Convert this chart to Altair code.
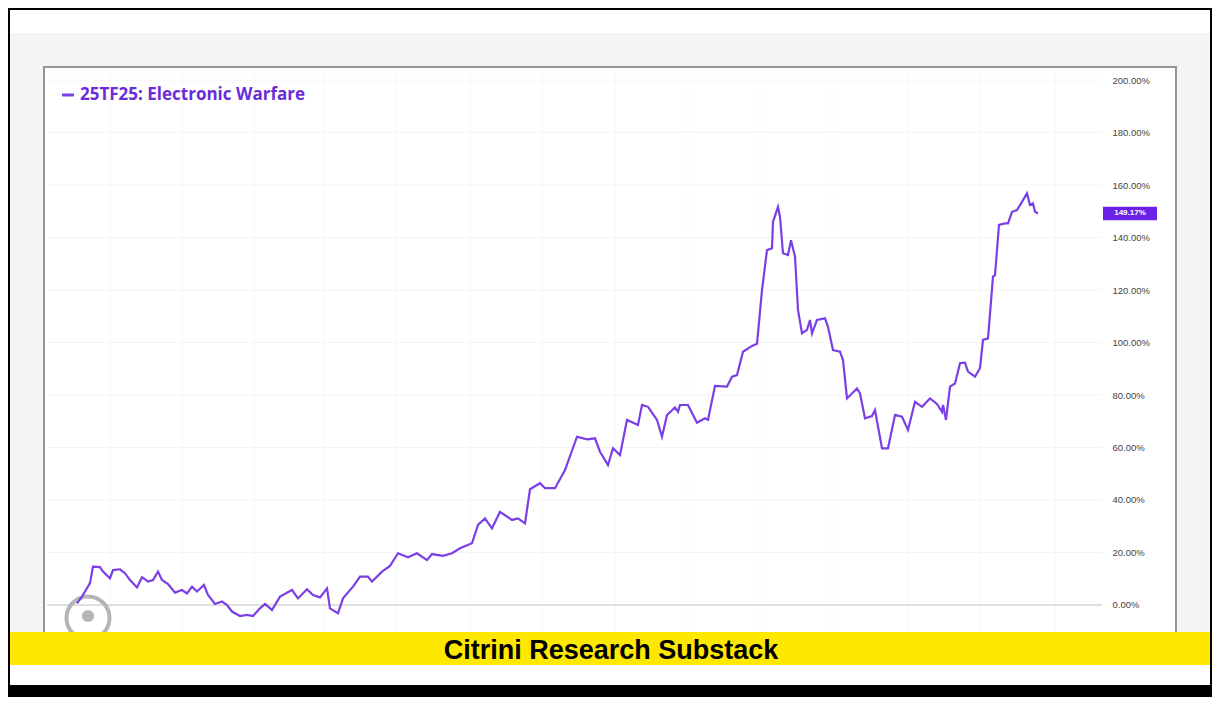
import altair as alt
import pandas as pd

# ---- data ----
series_name = "25TF25: Electronic Warfare"
banner_text = "Citrini Research Substack"
last_label = "149.17%"

session = [0, 5, 13, 16, 23, 26, 33, 36, 43, 48, 53, 60, 65, 71, 76, 81, 85, 91, 98, 105,
           110, 115, 120, 127, 131, 138, 145, 150, 155, 163, 170, 176, 183, 188, 195, 203, 215, 221, 230, 236,
           243, 250, 253, 261, 266, 276, 283, 291, 295, 305, 313, 321, 331, 340, 350, 355, 366, 375, 383, 395,
           401, 408, 415, 423, 435, 441, 448, 453, 463, 468, 478, 488, 500, 510, 518, 523, 531, 536, 543, 550,
           561, 565, 571, 580, 585, 590, 598, 601, 603, 611, 620, 628, 631, 638, 650, 655, 660, 666, 675, 680,
           685, 690, 695, 696, 701, 703, 706, 711, 714, 718, 721, 725, 730, 733, 735, 740, 748, 751, 756, 763,
           766, 770, 780, 783, 788, 795, 798, 805, 811, 818, 825, 831, 838, 845, 853, 860, 865, 866, 869, 873,
           878, 883, 888, 891, 898, 903, 906, 911, 916, 918, 922, 928, 931, 935, 940, 945, 950, 953, 956, 958,
           961]
change_pct = [0.6, 3.2, 8.3, 14.6, 14.4, 12.7, 10.2, 13.3, 13.6, 12.1, 9.5, 6.7, 10.6, 8.9, 9.5, 12.7, 9.5, 8.0, 4.7, 5.7,
              4.4, 7.0, 5.1, 7.6, 3.8, 0.4, 1.3, 0.0, -2.5, -4.2, -3.8, -4.2, -1.3, 0.4, -1.9, 3.2, 5.7, 2.5, 6.0, 3.8,
              2.9, 6.3, -1.3, -3.2, 2.5, 7.0, 10.8, 10.8, 8.9, 12.7, 14.9, 19.7, 18.2, 19.7, 17.1, 19.4, 18.7, 19.7, 21.6, 23.5,
              30.5, 33.0, 29.2, 35.5, 32.4, 33.0, 31.1, 44.1, 46.4, 44.5, 44.5, 51.4, 64.1, 63.1, 63.5, 58.4, 53.3, 59.7, 57.1, 70.5,
              68.6, 76.2, 75.5, 70.5, 64.1, 72.4, 75.3, 73.6, 76.2, 76.2, 69.4, 71.1, 70.5, 83.5, 83.2, 87.0, 87.6, 96.5, 98.7, 99.5,
              120.0, 135.2, 135.9, 146.0, 151.7, 147.9, 134.0, 133.3, 139.0, 132.7, 112.4, 103.5, 104.8, 108.6, 103.5, 108.6, 109.2, 106.0, 97.1, 96.5,
              93.3, 78.7, 82.5, 80.6, 71.1, 72.0, 74.3, 59.7, 59.7, 72.4, 71.7, 66.7, 77.4, 75.5, 78.7, 76.6, 73.6, 76.2, 70.5, 83.2,
              84.4, 92.1, 92.3, 88.9, 87.0, 90.2, 101.0, 101.6, 125.1, 125.7, 144.8, 145.4, 145.4, 149.8, 150.5, 153.6, 156.8, 152.4, 153.0, 149.8,
              149.17]
grid_sessions = [33, 105, 177, 248, 320, 393, 465, 538, 611, 683, 755, 830, 903, 978]
y_ticks = [0, 20, 40, 60, 80, 100, 120, 140, 160, 180, 200]

PURPLE_LINE = "#7a40e6"
PURPLE_TEXT = "#6a2cd8"
PURPLE_BOX = "#6c22e6"

W, H = 1055, 564

df = pd.DataFrame({"session": session, "pct": change_pct})
grid_x = pd.DataFrame({"session": grid_sessions})
grid_y = pd.DataFrame({"pct": [v for v in y_ticks if v != 0]})
zero_df = pd.DataFrame({"pct": [0]})
last_df = pd.DataFrame({"pct": [change_pct[-1]], "label": [last_label]})
one = pd.DataFrame({"k": [1]})
legend_df = pd.DataFrame({"label": [series_name]})
banner_df = pd.DataFrame({"label": [banner_text]})

xs = alt.Scale(domain=[-30, 1025], nice=False, zero=False)
ys = alt.Scale(domain=[-10.3, 204.6], nice=False, zero=False)

yaxis = alt.Axis(orient="right", values=y_ticks, grid=False, ticks=False, domain=False,
                 labelExpr="format(datum.value, '.2f') + '%'", labelPadding=10,
                 labelAlign="left", labelFontSize=9.5, labelFont="Liberation Sans",
                 labelColor="#444444", title=None, zindex=1)


def box(color, x1, x2, y1, y2, **kw):
    return alt.Chart(one).mark_rect(color=color, **kw).encode(
        x=alt.value(x1), x2=alt.value(x2), y=alt.value(y1), y2=alt.value(y2))


top_white = box("#ffffff", -37, 1163, -58, -35)
gray_bg = box("#f4f4f4", -37, 1163, -35, 564)
frame = alt.Chart(one).mark_rect(fill="#ffffff", stroke="#959595", strokeWidth=2).encode(
    x=alt.value(-3), x2=alt.value(1129), y=alt.value(-1), y2=alt.value(570))

vgrid = alt.Chart(grid_x).mark_rule(color="#f7f7f7", strokeWidth=1).encode(
    x=alt.X("session:Q", scale=xs, axis=None))
hgrid = alt.Chart(grid_y).mark_rule(color="#f4f4f4", strokeWidth=1).encode(
    y=alt.Y("pct:Q", scale=ys, axis=yaxis))
zero_line = alt.Chart(zero_df).mark_rule(color="#d6d6d6", strokeWidth=1.5).encode(
    y=alt.Y("pct:Q", scale=ys, axis=yaxis))

ring = alt.Chart(one).mark_point(shape="circle", size=1850, filled=False, stroke="#b5b5b5",
                                 strokeWidth=4, opacity=1).encode(x=alt.value(41), y=alt.value(550))
dot = alt.Chart(one).mark_point(shape="circle", size=150, filled=True, color="#b5b5b5",
                                opacity=1).encode(x=alt.value(41), y=alt.value(548))

line = alt.Chart(df).mark_line(color=PURPLE_LINE, strokeWidth=2.2).encode(
    x=alt.X("session:Q", scale=xs, axis=None),
    y=alt.Y("pct:Q", scale=ys, axis=yaxis))

last_box = alt.Chart(last_df).transform_calculate(
    lo="datum.pct - 2.6", hi="datum.pct + 2.6"
).mark_rect(color=PURPLE_BOX).encode(
    x=alt.value(1056), x2=alt.value(1110),
    y=alt.Y("lo:Q", scale=ys, axis=yaxis), y2="hi:Q")
last_text = alt.Chart(last_df).mark_text(color="white", fontSize=8, fontWeight="bold",
                                         font="Liberation Sans", align="center",
                                         baseline="middle").encode(
    x=alt.value(1083), y=alt.Y("pct:Q", scale=ys, axis=yaxis), text="label:N")

legend_dash = alt.Chart(one).mark_rule(color=PURPLE_LINE, strokeWidth=3).encode(
    x=alt.value(15), x2=alt.value(27), y=alt.value(27))
legend_text = alt.Chart(legend_df).mark_text(color=PURPLE_TEXT, fontSize=17, fontWeight="bold",
                                             font="Open Sans", align="left",
                                             baseline="middle").encode(
    x=alt.value(33), y=alt.value(27), text="label:N")

banner = box("#ffe800", -37, 1163, 564, 597)
bottom_white = box("#ffffff", -37, 1163, 597, 617)
banner_text_mark = alt.Chart(banner_df).mark_text(color="black", fontSize=27, fontWeight="bold",
                                                  font="Liberation Sans", align="center",
                                                  baseline="middle").encode(
    x=alt.value(564), y=alt.value(583), text="label:N")

chart = alt.layer(
    top_white, gray_bg, frame, vgrid, hgrid, zero_line, ring, dot, line,
    last_box, last_text, legend_dash, legend_text, banner, bottom_white, banner_text_mark
).properties(
    width=W, height=H,
    autosize=alt.AutoSizeParams(type="none"),
    padding={"left": 39, "top": 60, "right": 110, "bottom": 65},
    background="black",
).configure_view(stroke=None)

chart.save("out.html", embed_options={"renderer": "svg", "actions": False})
